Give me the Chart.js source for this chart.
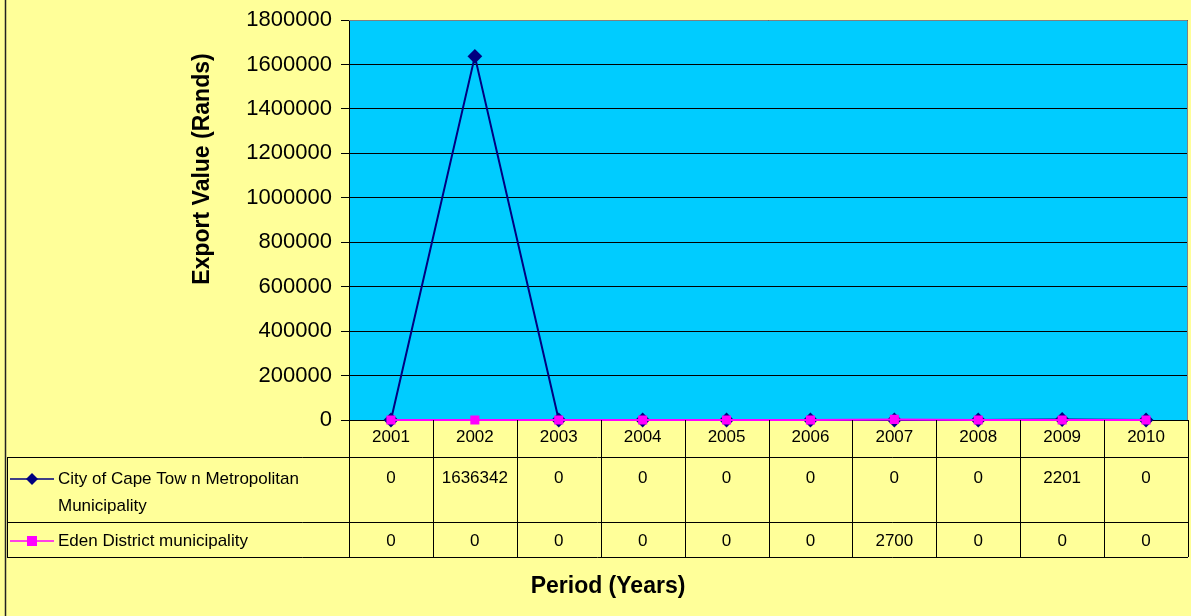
<!DOCTYPE html>
<html>
<head>
<meta charset="utf-8">
<script src="https://cdn.jsdelivr.net/npm/chart.js@4/dist/chart.umd.min.js"></script>
<style>
  html, body { margin: 0; padding: 0; background: #FFFF99; }
  #wrap { width: 1191px; height: 616px; position: relative; }
</style>
</head>
<body>
<div id="wrap"><canvas id="chart"></canvas></div>
<script>
const years = ["2001", "2002", "2003", "2004", "2005", "2006", "2007", "2008", "2009", "2010"];
const capeTown = [0, 1636342, 0, 0, 0, 0, 0, 0, 2201, 0];
const eden = [0, 0, 0, 0, 0, 0, 2700, 0, 0, 0];
const seriesNames = [["City of Cape Tow n Metropolitan", "Municipality"], ["Eden District municipality"]];
const yMax = 1800000;
const yStep = 200000;

const FONT = '"Liberation Sans", Arial, sans-serif';

const colors = {
    bg: "#FFFF99",
    plot: "#00CCFF",
    navy: "#000080",
    magenta: "#FF00FF"
};

// background, plot fill, table, titles
const decor = {
    id: 'decor',
    beforeDraw(chart) {
        const c = chart.ctx, a = chart.chartArea;
        c.save();
        c.fillStyle = colors.bg;
        c.fillRect(0, 0, chart.width, chart.height);
        c.fillStyle = colors.plot;
        c.fillRect(a.left, a.top, a.right - a.left, a.bottom - a.top);
        c.restore();
    },
    afterDraw(chart) {
        const c = chart.ctx, a = chart.chartArea, x = chart.scales.x;
        const colW = (a.right - a.left) / years.length;
        const rowTop = a.bottom, row1 = 457, row2 = 522, rowEnd = 557, tabLeft = 7;
        c.save();
        // outer border
        c.strokeStyle = "#222";
        c.lineWidth = 1.5;
        c.beginPath(); c.moveTo(5.5, 0); c.lineTo(5.5, chart.height); c.stroke();
        // plot border top / right
        c.strokeStyle = "#808080";
        c.lineWidth = 1;
        c.beginPath(); c.moveTo(a.left, a.top + 0.5); c.lineTo(a.right - 0.5, a.top + 0.5); c.lineTo(a.right - 0.5, a.bottom); c.stroke();

        // table lines
        c.strokeStyle = "#000";
        c.lineWidth = 1;
        c.beginPath();
        for (let i = 0; i <= years.length; i++) {
            const px = Math.round(a.left + i * colW) + 0.5;
            c.moveTo(px, rowTop); c.lineTo(px, rowEnd);
        }
        c.moveTo(tabLeft + 0.5, row1); c.lineTo(tabLeft + 0.5, rowEnd);
        [row1, row2, rowEnd].forEach(y => { c.moveTo(tabLeft, y + 0.5); c.lineTo(a.right, y + 0.5); });
        c.stroke();

        // table text
        c.fillStyle = "#000";
        c.font = "17px " + FONT;
        c.textAlign = "center";
        c.textBaseline = "middle";
        years.forEach((yr, i) => {
            const px = x.getPixelForValue(i);
            c.fillText(yr, px, 437);
            c.fillText(String(capeTown[i]), px, 478);
            c.fillText(String(eden[i]), px, 541);
        });

        // legend keys
        c.textAlign = "left";
        c.fillText(seriesNames[0][0], 58, 479);
        c.fillText(seriesNames[0][1], 58, 506);
        c.fillText(seriesNames[1][0], 58, 541);
        c.lineWidth = 1.5;
        c.strokeStyle = colors.navy;
        c.beginPath(); c.moveTo(10, 479); c.lineTo(54, 479); c.stroke();
        c.fillStyle = colors.navy;
        c.beginPath(); c.moveTo(32, 473); c.lineTo(38, 479); c.lineTo(32, 485); c.lineTo(26, 479); c.closePath(); c.fill();
        c.strokeStyle = colors.magenta;
        c.beginPath(); c.moveTo(10, 541); c.lineTo(54, 541); c.stroke();
        c.fillStyle = colors.magenta;
        c.fillRect(27, 536, 10, 10);

        // axis titles
        c.fillStyle = "#000";
        c.font = "bold 23px " + FONT;
        c.textAlign = "center";
        c.fillText("Period (Years)", 608, 587);
        c.translate(203, 169);
        c.rotate(-Math.PI / 2);
        c.fillText("Export Value (Rands)", 0, 0);
        c.restore();
    }
};

const ctx = document.getElementById('chart').getContext("2d");

const options = {
    type: "line",
    data: {
        labels: years,
        datasets: [{
            label: seriesNames[0].join(" "),
            data: capeTown,
            borderColor: colors.navy,
            backgroundColor: colors.navy,
            borderWidth: 2,
            pointStyle: 'rectRot',
            pointRadius: 6,
            pointHoverRadius: 6,
            tension: 0,
            clip: false,
            order: 1
        }, {
            label: seriesNames[1][0],
            data: eden,
            borderColor: colors.magenta,
            backgroundColor: colors.magenta,
            borderWidth: 2,
            pointStyle: 'rect',
            pointRadius: 5,
            pointHoverRadius: 5,
            tension: 0,
            clip: false,
            order: 0
        }]
    },
    options: {
        responsive: false,
        animation: false,
        layout: {
            autoPadding: false,
            padding: { left: 0, right: 3, top: 20, bottom: 196 }
        },
        plugins: {
            legend: { display: false },
            tooltip: { enabled: false }
        },
        scales: {
            x: {
                display: false,
                offset: true
            },
            y: {
                min: 0,
                max: yMax,
                afterFit(scale) {
                    scale.width = 349;
                    scale.paddingTop = 0;
                    scale.paddingBottom = 0;
                },
                border: { display: true, color: "#000", width: 1 },
                grid: {
                    color: "#000",
                    lineWidth: 1,
                    drawTicks: true,
                    tickLength: 8
                },
                ticks: {
                    stepSize: yStep,
                    padding: 9,
                    color: "#000",
                    font: { family: FONT, size: 22 },
                    callback: v => String(v)
                }
            }
        }
    },
    plugins: [decor]
};

const canvas = document.getElementById('chart');
canvas.width = 1191;
canvas.height = 616;
new Chart(ctx, options);
</script>
</body>
</html>
